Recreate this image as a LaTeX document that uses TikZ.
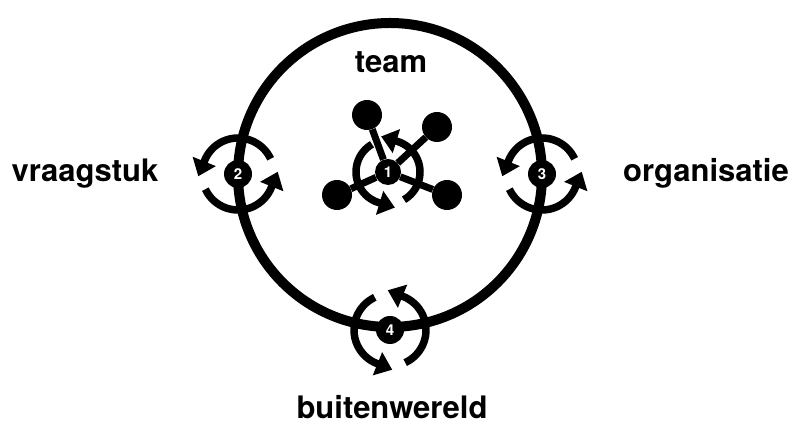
\documentclass[tikz,border=0pt]{standalone}
\usepackage{fontspec}
\setmainfont{TeX Gyre Heros}
\usetikzlibrary{arrows.meta}

\begin{document}
\begin{tikzpicture}[x=1pt, y=1pt,
  ring/.style={line width=10pt},
  spoke/.style={line width=7pt},
  turn/.style={line width=7.5pt, -{Triangle[length=16pt,width=24pt]}},
  badge/.style={circle, fill=black, inner sep=0pt, minimum size=28pt,
    text=white, font=\fontsize{15}{15}\selectfont\bfseries},
  dot/.style={circle, fill=black, inner sep=0pt, minimum size=30pt},
  word/.style={font=\fontsize{31}{31}\selectfont\bfseries, anchor=base,
    inner sep=0pt}]

\useasboundingbox (0,0) rectangle (792,427);

%==================================================
% Big ring
%==================================================
\draw[ring] (390,252) circle[radius=152];

% Labels
\node[word] (team)  at (391,354) {team};
\node[word] (vraag) at (85,245)  {vraagstuk};
\node[word] (org)   at (706,245) {organisatie};
\node[word] (buiten) at (392,8)  {buitenwereld};

%==================================================
% Team in the middle
%==================================================
\node[badge, minimum size=26pt] (m1) at (388,255) {1};

\node[dot] (tl) at (367,312) {};
\node[dot] (tr) at (437,300) {};
\node[dot] (bl) at (337,232) {};
\node[dot] (br) at (447,232) {};

\foreach \p in {tl,tr,bl,br}{
  \draw[spoke] (m1) -- (\p);
}

% Markers on the ring
\node[badge] (m2) at (238,253) {2};
\node[badge] (m3) at (542,253) {3};
\node[badge] (m4) at (390,97)  {4};

%==================================================
% Turning arrows round each marker
%==================================================
\foreach \m/\r/\rad in {m2/0/36, m3/0/36, m4/90/36, m1/95/32}{
  \draw[turn] (\m) ++(\r+25:\rad)
    arc[start angle=\r+25, end angle=\r+158, radius=\rad] -- ++(\r+248:17);
  \draw[turn] (\m) ++(\r+205:\rad)
    arc[start angle=\r+205, end angle=\r+338, radius=\rad] -- ++(\r+68:17);
}

\end{tikzpicture}
\end{document}
